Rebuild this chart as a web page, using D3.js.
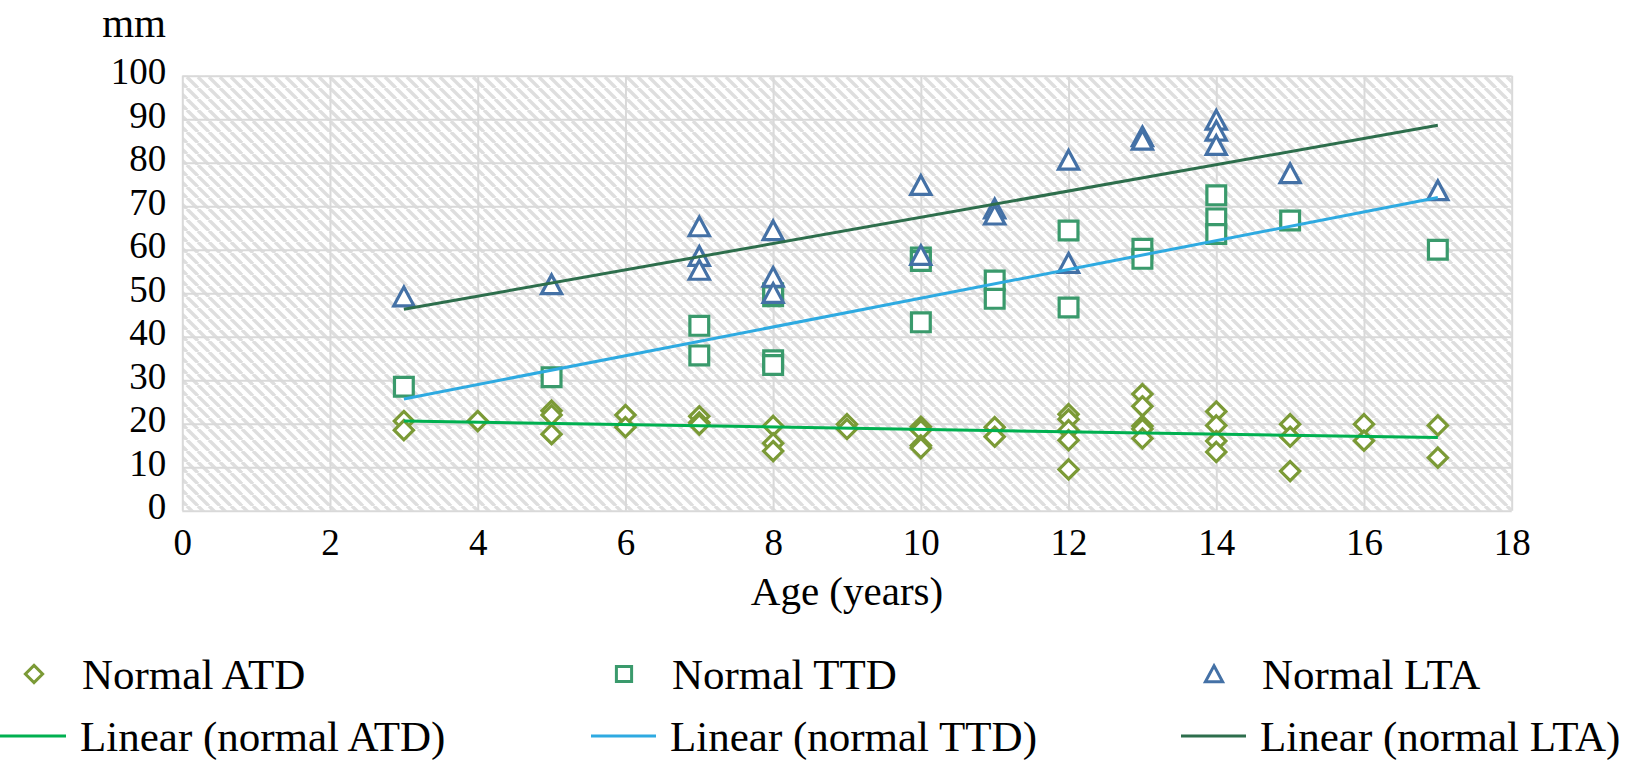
<!DOCTYPE html>
<html>
<head>
<meta charset="utf-8">
<script src="https://cdn.jsdelivr.net/npm/d3@7/dist/d3.min.js"></script>
<style>
  html, body { margin: 0; padding: 0; background: #fff; }
  svg { display: block; }
  text { font-family: "Liberation Serif", "Times New Roman", serif; fill: #000; }
</style>
</head>
<body>
<svg id="chart" width="1631" height="763"></svg>
<script>
// ---- data ----
const xTicks = [0, 2, 4, 6, 8, 10, 12, 14, 16, 18];
const yTicks = [0, 10, 20, 30, 40, 50, 60, 70, 80, 90, 100];

const atdPoints = [
  [3, 20.6], [3, 18.5],
  [4, 20.6],
  [5, 23.0], [5, 22.0], [5, 17.6],
  [6, 22.0], [6, 19.2],
  [7, 21.7], [7, 20.3], [7, 19.8],
  [8, 19.5], [8, 15.5], [8, 13.7],
  [9, 19.9], [9, 18.8],
  [10, 19.3], [10, 18.5], [10, 15.0], [10, 14.4],
  [11, 19.2], [11, 17.0],
  [12, 22.2], [12, 21.0], [12, 18.5], [12, 16.2], [12, 9.5],
  [13, 26.8], [13, 24.0], [13, 19.5], [13, 18.8], [13, 16.6],
  [14, 22.8], [14, 19.6], [14, 16.0], [14, 13.5],
  [15, 19.9], [15, 17.0], [15, 9.1],
  [16, 19.9], [16, 16.1],
  [17, 19.6], [17, 12.2]
];
const ttdPoints = [
  [3, 28.5],
  [5, 30.7],
  [7, 42.5], [7, 35.7],
  [8, 50.0], [8, 49.3], [8, 34.6], [8, 33.5],
  [10, 58.2], [10, 57.4], [10, 43.3],
  [11, 52.9], [11, 48.7],
  [12, 64.4], [12, 46.7],
  [13, 60.2], [13, 57.9],
  [14, 72.5], [14, 67.2], [14, 63.6],
  [15, 66.7],
  [17, 60.0]
];
const ltaPoints = [
  [3, 49.2],
  [5, 52.0],
  [7, 65.3], [7, 58.5], [7, 55.3],
  [8, 64.4], [8, 53.7], [8, 50.0],
  [10, 74.8], [10, 58.7],
  [11, 69.4], [11, 68.0],
  [12, 80.6], [12, 56.9],
  [13, 86.0], [13, 85.2],
  [14, 89.8], [14, 87.3], [14, 84.0],
  [15, 77.5],
  [17, 73.6]
];
// trendline endpoints
const trendATD = [[3, 20.6], [17, 16.8]];
const trendTTD = [[3, 25.7], [17, 72.0]];
const trendLTA = [[3, 46.3], [17, 88.6]];

const legendRow1 = ["Normal ATD", "Normal TTD", "Normal LTA"];
const legendRow2 = ["Linear (normal ATD)", "Linear (normal TTD)", "Linear (normal LTA)"];

// ---- styles ----
const colATD = "#7b9a36", colTTD = "#3a9a6c", colLTA = "#4471a6";
const colTrATD = "#00b050", colTrTTD = "#2eaae1", colTrLTA = "#2d6e4c";
const gridCol = "#d9d9d9";

const svg = d3.select("#chart");
const pLeft = 182.3, pRight = 1511.7, pTop = 75.7, pBottom = 510.7;

const x = d3.scaleLinear().domain([0, 18]).range([pLeft, pRight]);
const y = d3.scaleLinear().domain([0, 100]).range([pBottom, pTop]);

// hatch pattern
const defs = svg.append("defs");
const pat = defs.append("pattern")
  .attr("id", "hatch").attr("patternUnits", "userSpaceOnUse")
  .attr("width", 11).attr("height", 11);
pat.append("rect").attr("width", 11).attr("height", 11).attr("fill", "#fff");
pat.selectAll("line").data([-11, 0, 11]).enter().append("line")
  .attr("x1", d => d).attr("y1", 0)
  .attr("x2", d => d + 11).attr("y2", 11)
  .attr("stroke", "#dedede").attr("stroke-width", 3.4);

svg.append("rect")
  .attr("x", pLeft).attr("y", pTop)
  .attr("width", pRight - pLeft).attr("height", pBottom - pTop)
  .attr("fill", "url(#hatch)");

// gridlines
const gy = svg.append("g").attr("transform", `translate(${pLeft},0)`)
  .call(d3.axisLeft(y).tickValues(yTicks).tickSize(-(pRight - pLeft)).tickFormat(""));
gy.select(".domain").remove();
gy.selectAll("line").attr("stroke", gridCol).attr("stroke-width", 2);

const gx = svg.append("g").attr("transform", `translate(0,${pBottom})`)
  .call(d3.axisBottom(x).tickValues(xTicks).tickSize(-(pBottom - pTop)).tickFormat(""));
gx.select(".domain").remove();
gx.selectAll("line").attr("stroke", gridCol).attr("stroke-width", 2);

// tick labels
const ay = svg.append("g").attr("transform", `translate(${pLeft},0)`)
  .call(d3.axisLeft(y).tickValues(yTicks).tickSize(0).tickPadding(16));
ay.select(".domain").remove();
ay.selectAll("text").attr("font-size", 37).attr("dy", "0.22em")
  .style("font-family", '"Liberation Serif", serif').attr("fill", "#000");

const ax = svg.append("g").attr("transform", `translate(0,${pBottom})`)
  .call(d3.axisBottom(x).tickValues(xTicks).tickSize(0).tickPadding(18));
ax.select(".domain").remove();
ax.selectAll("text").attr("font-size", 37)
  .style("font-family", '"Liberation Serif", serif').attr("fill", "#000");

// axis titles
svg.append("text").attr("x", 166).attr("y", 37).attr("text-anchor", "end")
  .attr("font-size", 41).text("mm");
svg.append("text").attr("x", (pLeft + pRight) / 2).attr("y", 605).attr("text-anchor", "middle")
  .attr("font-size", 41).text("Age (years)");

// marker shapes
const diamond = s => `M0,${-s}L${s},0L0,${s}L${-s},0Z`;
const square = s => `M${-s},${-s}H${s}V${s}H${-s}Z`;
const triangle = s => `M0,${-s * 1.0}L${s * 1.05},${s * 0.95}L${-s * 1.05},${s * 0.95}Z`;

function drawSeries(data, pathFn, color) {
  svg.append("g").selectAll("path").data(data).enter().append("path")
    .attr("d", pathFn)
    .attr("transform", d => `translate(${x(d[0])},${y(d[1])})`)
    .attr("fill", "#fff").attr("stroke", color).attr("stroke-width", 3.2)
    .attr("stroke-linejoin", "miter");
}
drawSeries(atdPoints, () => diamond(9.6), colATD);
drawSeries(ttdPoints, () => square(9.4), colTTD);
drawSeries(ltaPoints, () => triangle(9.6), colLTA);

// trendlines
const line = d3.line().x(d => x(d[0])).y(d => y(d[1]));
[[trendATD, colTrATD], [trendTTD, colTrTTD], [trendLTA, colTrLTA]].forEach(([d, c]) => {
  svg.append("path").attr("d", line(d)).attr("fill", "none")
    .attr("stroke", c).attr("stroke-width", 3);
});

// legend
const colX = [0, 590, 1180];
const markerFns = [() => diamond(8.6), () => square(7.6), () => triangle(8.2)];
const markerCols = [colATD, colTTD, colLTA];
const trendCols = [colTrATD, colTrTTD, colTrLTA];
const row1Y = 674, row2Y = 736;
legendRow1.forEach((t, i) => {
  const g = svg.append("g").attr("transform", `translate(${colX[i]},0)`);
  g.append("path").attr("d", markerFns[i]())
    .attr("transform", `translate(34,${row1Y})`)
    .attr("fill", "#fff").attr("stroke", markerCols[i]).attr("stroke-width", 3);
  g.append("text").attr("x", 82).attr("y", row1Y).attr("dy", "0.34em")
    .attr("font-size", 43).text(t);
});
legendRow2.forEach((t, i) => {
  const g = svg.append("g").attr("transform", `translate(${colX[i]},0)`);
  g.append("line").attr("x1", i === 0 ? 0 : 1).attr("x2", 66)
    .attr("y1", row2Y).attr("y2", row2Y)
    .attr("stroke", trendCols[i]).attr("stroke-width", 3);
  g.append("text").attr("x", 80).attr("y", row2Y).attr("dy", "0.34em")
    .attr("font-size", 43).text(t);
});
</script>
</body>
</html>
